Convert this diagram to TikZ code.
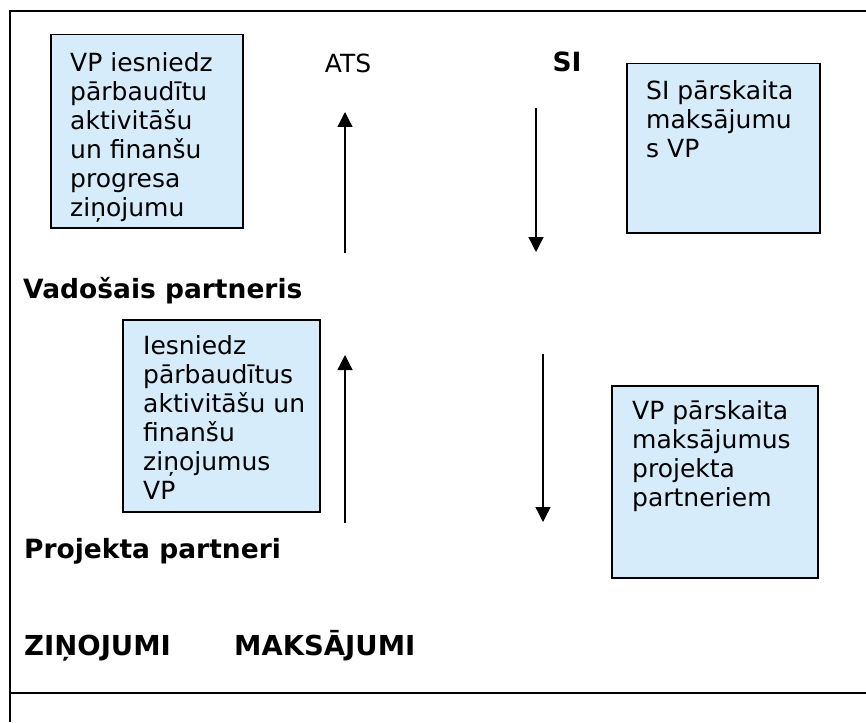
\documentclass[tikz,border=0pt]{standalone}
\usepackage{fontspec}
\setmainfont{DejaVu Sans}
\usepackage{tikz}
\usetikzlibrary{arrows.meta}
\usepackage{xcolor}
\definecolor{boxfill}{RGB}{214,236,250}

\begin{document}
\begin{tikzpicture}[x=1pt, y=-1pt,
    every node/.style={inner sep=0pt},
    infobox/.style={draw=black, line width=1.5pt, fill=boxfill, anchor=north west},
    boxtext/.style={anchor=north west, align=left, font=\fontsize{25}{29}\selectfont},
    headtext/.style={anchor=base west, font=\fontsize{26.5}{30}\selectfont\bfseries},
    flow/.style={line width=1.3pt, -{Triangle[width=15pt, length=15pt]}}]
  \useasboundingbox (0,0) rectangle (866,722);

  % frame
  \draw[line width=2pt] (866,11.5) -- (10,11.5) -- (10,722);
  \draw[line width=2pt] (10,693) -- (866,693);

  % reports going up to ATS
  \node[infobox, minimum width=192pt, minimum height=193pt] (vpBox) at (50,34) {};
  \node[boxtext] (vpText) at (70,52)
       {VP iesniedz\\pārbaudītu\\aktivitāšu\\un finanšu\\progresa\\ziņojumu};
  \node[anchor=base, font=\fontsize{25}{29}\selectfont] (ats) at (348,73) {ATS};
  \coordinate (upA1) at (345,253);
  \coordinate (upA2) at (345,112);
  \draw[flow] (upA1) -- (upA2);

  % payments coming down from SI
  \node[anchor=base, font=\fontsize{26.5}{30}\selectfont\bfseries] (si) at (567,72) {SI};
  \coordinate (downA1) at (536,108);
  \coordinate (downA2) at (536,252);
  \draw[flow] (downA1) -- (downA2);
  \node[infobox, minimum width=193pt, minimum height=169pt] (siBox) at (626,63) {};
  \node[boxtext] (siText) at (646,80) {SI pārskaita\\maksājumu\\s VP};

  % lead partner
  \node[headtext] (lead) at (23,298) {Vadošais partneris};

  % reports from project partners
  \node[infobox, minimum width=197pt, minimum height=192pt] (ppBox) at (122,319) {};
  \node[boxtext] (ppText) at (143,335)
       {Iesniedz\\pārbaudītus\\aktivitāšu un\\finanšu\\ziņojumus\\VP};
  \coordinate (upB1) at (345,523);
  \coordinate (upB2) at (345,355);
  \draw[flow] (upB1) -- (upB2);

  % payments to project partners
  \coordinate (downB1) at (543,354);
  \coordinate (downB2) at (543,522);
  \draw[flow] (downB1) -- (downB2);
  \node[infobox, minimum width=206pt, minimum height=192pt] (payBox) at (611,385) {};
  \node[boxtext] (payText) at (632,400)
       {VP pārskaita\\maksājumus\\projekta\\partneriem};

  % bottom labels
  \node[headtext] (partners) at (24,558) {Projekta partneri};
  \node[headtext, font=\fontsize{27.5}{30}\selectfont\bfseries] (reports) at (24,655) {ZIŅOJUMI};
  \node[headtext, font=\fontsize{27.5}{30}\selectfont\bfseries] (payments) at (234,655) {MAKSĀJUMI};
\end{tikzpicture}
\end{document}
